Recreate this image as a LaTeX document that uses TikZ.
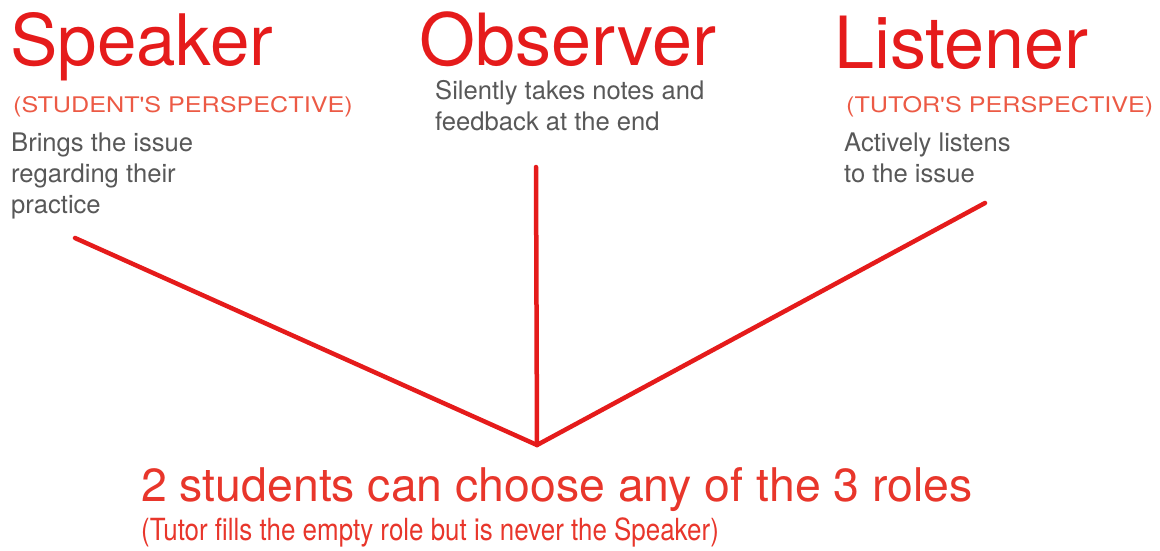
\documentclass[tikz,border=0pt]{standalone}
\usepackage{fontspec}
\setmainfont{TeX Gyre Heros}
\newfontfamily\condfont[FakeStretch=0.85]{TeX Gyre Heros}
\newfontfamily\widefont[FakeStretch=1.17]{TeX Gyre Heros}
\definecolor{rolered}{HTML}{E51B1B}
\definecolor{persred}{HTML}{EC5A45}
\definecolor{footred}{HTML}{E8362B}
\definecolor{notegray}{HTML}{585858}

\begin{document}
\begin{tikzpicture}
  [x=1pt,y=-1pt,
   every node/.style={inner sep=0pt,anchor=base west},
   role/.style={text=rolered,font=\fontsize{72}{72}\selectfont},
   persp/.style={text=persred,font=\widefont\fontsize{21.5}{26}\selectfont},
   note/.style={text=notegray,align=left,font=\fontsize{25.6}{31}\selectfont},
   roleline/.style={draw=rolered,line width=4.5pt,line cap=round}]
  \useasboundingbox (0,0) rectangle (1160,550);

  % role titles
  \node[role,font=\fontsize{71}{71}\selectfont] (spk) at (10,65) {Speaker};
  \node[role] (obs) at (419,65)   {Observer};
  \node[role] (lis) at (834,68)   {Listener};

  \node[persp] (spkp) at (13,112)  {(STUDENT'S PERSPECTIVE)};
  \node[persp] (lisp) at (846,112) {(TUTOR'S PERSPECTIVE)};

  % notes (base = last line)
  \node[note] (spkn) at (11,213)  {Brings the issue\\regarding their\\practice};
  \node[note] (obsn) at (435,130) {Silently takes notes and\\feedback at the end};
  \node[note] (lisn) at (844,182) {Actively listens\\to the issue};

  \coordinate (hub)  at (537,445);
  \coordinate (spkl) at (75,238);
  \coordinate (obsl) at (536,167);
  \coordinate (lisl) at (985,203);

  \foreach \from in {spkl,obsl,lisl}
    \draw[roleline] (\from) -- (hub);

  \node[text=footred,font=\fontsize{46.4}{46.4}\selectfont] (foot) at (141,501)
    {2 students can choose any of the 3 roles};
  \node[text=footred,font=\condfont\fontsize{30.5}{30.5}\selectfont] (footn) at (141,540)
    {(Tutor fills the empty role but is never the Speaker)};
\end{tikzpicture}
\end{document}
